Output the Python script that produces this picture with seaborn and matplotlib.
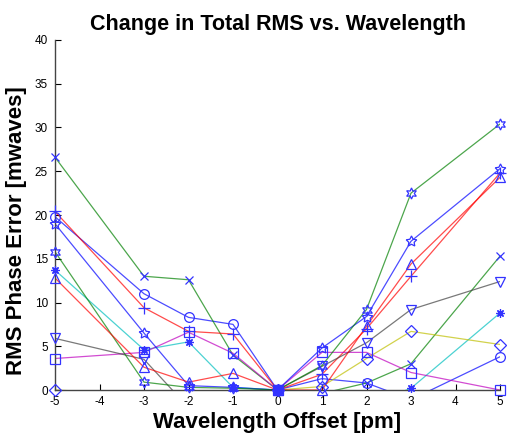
import numpy as np
import pandas as pd
import matplotlib
matplotlib.use("Agg")
import matplotlib.pyplot as plt
import seaborn as sns

sns.set_theme(style="white")
plt.rcParams["font.family"] = ["Liberation Sans", "DejaVu Sans"]
plt.rcParams["axes.unicode_minus"] = False
plt.rcParams["text.color"] = "black"
plt.rcParams["axes.labelcolor"] = "black"

# Wavelength offsets [pm]
offsets = [-5, -3, -2, -1, 0, 1, 2, 3, 5]

# RMS phase error change [mwaves] for each configuration
rms_o = [19.8, 11.0, 8.3, 7.5, 0.0, 1.3, 0.8, -1.1, 3.8]
rms_x = [26.6, 13.0, 12.6, 4.0, 0.0, -0.4, 0.8, 3.0, 15.3]
rms_plus = [20.4, 9.4, 6.7, 6.4, 0.0, 1.8, 7.0, 13.0, 24.8]
rms_star = [13.7, 4.6, 5.5, 0.3, 0.0, -0.3, -1.8, 0.2, 8.8]
rms_sq = [3.6, 4.3, 6.6, 4.2, 0.0, 4.3, 4.3, 2.0, 0.0]
rms_dia = [0.0, -0.5, -0.5, -0.3, 0.0, 0.4, 3.6, 6.7, 5.2]
rms_v = [5.9, 3.5, -2.0, -1.0, 0.0, 2.7, 5.4, 9.2, 12.4]
rms_pent = [19.0, 6.5, 0.5, 0.3, 0.0, 4.8, 8.4, 17.0, 25.3]
rms_hex = [15.8, 0.9, 0.3, 0.2, 0.0, 2.8, 9.2, 22.5, 30.4]
rms_tri = [12.8, 2.6, 0.9, 1.9, 0.0, 0.0, 7.3, 14.4, 24.3]

series = [rms_o, rms_x, rms_plus, rms_star, rms_sq, rms_dia, rms_v,
          rms_pent, rms_hex, rms_tri]
line_colors = [(0, 0, 1), (0, 0.5, 0), (1, 0, 0), (0, 0.75, 0.75),
               (0.75, 0, 0.75), (0.75, 0.75, 0), (0.25, 0.25, 0.25),
               (0, 0, 1), (0, 0.5, 0), (1, 0, 0)]
markers = ["o", "x", "+", (8, 2, 0), "s", "D", "v",
           (5, 1, 0), (6, 1, 0), "^"]
marker_sizes = [7, 6, 8, 6, 7, 6, 7, 8, 8, 7]

fig = plt.figure(figsize=(5.07, 4.40), dpi=100)
ax = fig.add_axes([55 / 507, 50 / 440, 445 / 507, 350 / 440])

for vals, col, mk, ms in zip(series, line_colors, markers, marker_sizes):
    df = pd.DataFrame({"offset": offsets, "rms": vals})
    sns.lineplot(data=df, x="offset", y="rms", color=col, lw=0.9,
                 alpha=0.7, ax=ax, sort=False)
    shown = df[(df["rms"] >= 0) & (df["rms"] <= 40)]
    sns.lineplot(data=shown, x="offset", y="rms", marker=mk, linestyle="",
                 markersize=ms, markeredgecolor=(0.2, 0.2, 1.0),
                 markerfacecolor="none", markeredgewidth=0.9,
                 clip_on=False, ax=ax, sort=False, zorder=3)

ax.set_xlim(-5, 5)
ax.set_ylim(0, 40)
ax.set_xticks(range(-5, 6))
ax.set_yticks(range(0, 41, 5))
ax.tick_params(axis="x", direction="in", length=4, width=0.8,
               colors="black", labelsize=8.5, pad=4)
ax.tick_params(axis="y", direction="in", length=4, width=0.8,
               colors="black", labelsize=8.5, pad=5)
ax.tick_params(left=True, bottom=True)
for side in ["top", "right"]:
    ax.spines[side].set_visible(False)
for side in ["left", "bottom"]:
    ax.spines[side].set_color("#444444")
    ax.spines[side].set_linewidth(1.0)
ax.grid(False)

ax.set_title("Change in Total RMS vs. Wavelength", fontsize=15.5,
             fontweight="bold", pad=7, color="black")
ax.set_xlabel("Wavelength Offset [pm]", fontsize=16, fontweight="bold",
              labelpad=3)
ax.set_ylabel("RMS Phase Error [mwaves]", fontsize=16, fontweight="bold")
ax.yaxis.set_label_coords(-0.062, 0.455)

fig.savefig("out.png", dpi=100, facecolor="white")
